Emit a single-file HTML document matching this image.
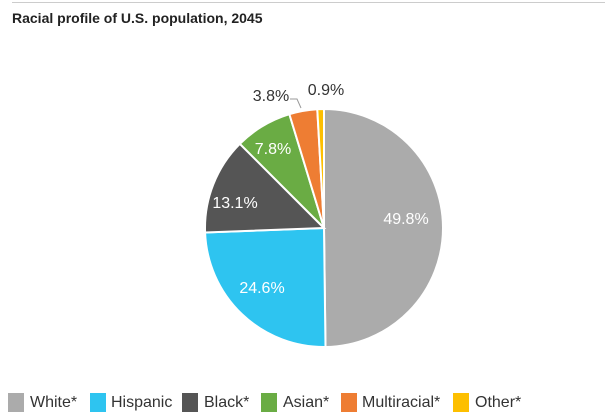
<!DOCTYPE html>
<html><head><style>
body{margin:0;width:609px;height:419px;background:#fff;font-family:"Liberation Sans",sans-serif;overflow:hidden;position:relative}
.t{position:absolute;left:12px;top:10px;font-size:14px;font-weight:bold;color:#222}
.line{position:absolute;left:12px;right:4px;top:2px;height:1px;background:#ccc}
.lg{position:absolute;top:393px;width:16px;height:19px}
.lt{position:absolute;top:393px;font-size:16px;color:#333;line-height:19px}
</style></head><body>
<div class="line"></div>
<div class="t">Racial profile of U.S. population, 2045</div>
<svg id="s" width="609" height="419" style="position:absolute;left:0;top:0">
<g id="p"></g>
<polyline points="290,99 297,99 301,108" fill="none" stroke="#999" stroke-width="1"/>
<g font-family="Liberation Sans, sans-serif" font-size="16" text-anchor="middle">
<text x="406" y="224" fill="#fff">49.8%</text>
<text x="262" y="293" fill="#fff">24.6%</text>
<text x="235" y="208" fill="#fff">13.1%</text>
<text x="273" y="154" fill="#fff">7.8%</text>
<text x="271" y="101" fill="#333">3.8%</text>
<text x="326" y="95" fill="#333">0.9%</text>
</g>
</svg>
<div class="lg" style="left:8px;background:#ababab"></div><div class="lt" style="left:30px">White*</div>
<div class="lg" style="left:90px;background:#2ec4f0"></div><div class="lt" style="left:111px">Hispanic</div>
<div class="lg" style="left:182px;background:#555"></div><div class="lt" style="left:204px">Black*</div>
<div class="lg" style="left:261px;background:#6aac44"></div><div class="lt" style="left:283px">Asian*</div>
<div class="lg" style="left:341px;background:#ee7d33"></div><div class="lt" style="left:362px">Multiracial*</div>
<div class="lg" style="left:453px;background:#fdbf00"></div><div class="lt" style="left:475px">Other*</div>
<script>
var d=[[49.8,"#ababab"],[24.6,"#2ec4f0"],[13.1,"#555555"],[7.8,"#6aac44"],[3.8,"#ee7d33"],[0.9,"#fdbf00"]];
var cx=324,cy=228,r=119,a=0,h="";
function pt(a){var t=a/100*2*Math.PI;return [cx+r*Math.sin(t),cy-r*Math.cos(t)];}
d.forEach(function(s){var p1=pt(a),p2=pt(a+s[0]);var l=s[0]>50?1:0;
h+='<path d="M'+cx+','+cy+'L'+p1[0]+','+p1[1]+'A'+r+','+r+' 0 '+l+' 1 '+p2[0]+','+p2[1]+'Z" fill="'+s[1]+'" stroke="#fff" stroke-width="2"/>';a+=s[0];});
document.getElementById("p").innerHTML=h;
</script>
</body></html>
